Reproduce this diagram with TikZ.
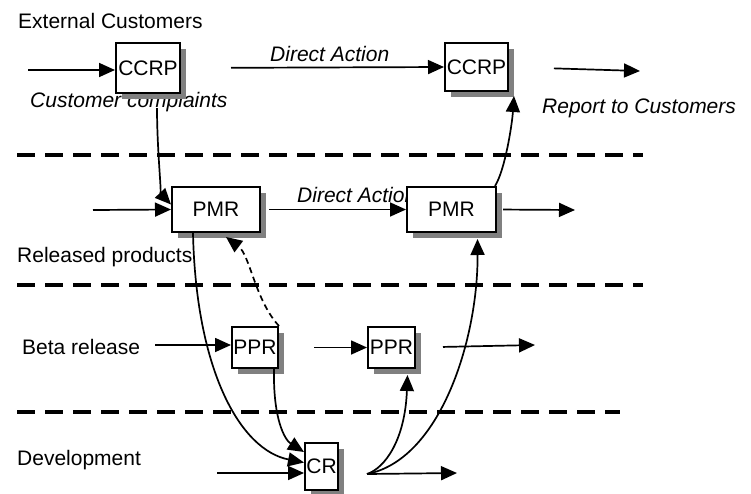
\documentclass[tikz,border=0pt]{standalone}
\usepackage{fontspec}
\setmainfont{Liberation Sans}
\usetikzlibrary{arrows.meta,shadows}

\tikzset{
  box/.style={draw,line width=2pt,fill=white,inner sep=1pt,
    drop shadow={shadow xshift=6pt,shadow yshift=-6pt,fill=black!50,opacity=1}},
  lane/.style={line width=4.5pt,dash pattern=on 18pt off 10pt},
  flow/.style={line width=1.7pt,-{Triangle[length=16pt,width=14pt]}},
  lbl/.style={anchor=west,inner sep=0pt}
}

\begin{document}
\begin{tikzpicture}[x=1pt,y=-1pt,font=\fontsize{21}{25}\selectfont]
       \useasboundingbox (0,0) rectangle (751,493);

       % Swim lane separators
       \draw[lane] (17,155) -- (643,155);
       \draw[lane] (17,285) -- (643,285);
       \draw[lane] (17,412) -- (620,412);

       % Lane and flow labels
       \node[lbl] (ext) at (18,21) {External Customers};
       \node[lbl] (complaints) at (30,102) {\itshape Customer complaints};
       \node[lbl] (action1) at (270,54) {\itshape Direct Action};
       \node[lbl] (report) at (542,108) {\itshape Report to Customers};
       \node[lbl] (action2) at (297,195) {\itshape Direct Action};
       \node[lbl] (released) at (17,257) {Released products};
       \node[lbl] (beta) at (22,347) {Beta release};
       \node[lbl] (dev) at (17,460) {Development};

       % Boxes
       \node[box,minimum width=64pt,minimum height=50pt] (ccrp1) at (148,68) {CCRP};
       \node[box,minimum width=63pt,minimum height=48pt] (ccrp2) at (476.5,67) {CCRP};
       \node[box,minimum width=88pt,minimum height=45pt] (pmr1) at (216,209.5) {PMR};
       \node[box,minimum width=89pt,minimum height=45pt] (pmr2) at (451.5,209.5) {PMR};
       \node[box,minimum width=46pt,minimum height=41pt] (ppr1) at (255,347.5) {PPR};
       \node[box,minimum width=47pt,minimum height=41pt] (ppr2) at (391.5,347.5) {PPR};
       \node[box,minimum width=33pt,minimum height=47pt] (cr) at (321.5,466.5) {CR};

       % Free ends
       \coordinate (in1) at (28,70);
       \coordinate (in2) at (93,210);
       \coordinate (in3) at (155,345);
       \coordinate (in4) at (217,473);
       \coordinate (out1) at (640,71);
       \coordinate (out2) at (575,210);
       \coordinate (out3) at (535,345);
       \coordinate (out4) at (457,473);
       \coordinate (cc) at (157,108);
       \coordinate (crx) at (367,474);

       % Straight flows
       \draw[flow] (in1) -- (in1 -| ccrp1.west);
       \draw[flow,shorten <=50pt] (ccrp1.east) -- (ccrp2.west);
       \draw[flow,shorten <=45pt] (ccrp2.east) -- (out1);
       \draw[flow] (in2) -- (pmr1.west);
       \draw[flow,shorten <=8pt] (pmr1.east) -- (pmr2.west);
       \draw[flow,shorten <=6pt] (pmr2.east) -- (out2);
       \draw[flow] (in3) -- (in3 -| ppr1.west);
       \draw[flow,shorten <=35pt] (ppr1.east) -- (ppr2.west);
       \draw[flow,shorten <=27pt] (ppr2.east) -- (out3);
       \draw[flow] (in4) -- (in4 -| cr.west);
       \draw[flow] (crx) -- (out4);

       % Curved flows between lanes
       \draw[flow] (cc) .. controls (157,150) and (162,195) .. ([yshift=5pt]pmr1.west);
       \draw[flow] ([xshift=-2pt]pmr2.north east) .. controls (505,170) and (512,125) .. ([xshift=5pt,yshift=-4pt]ccrp2.south east);
       \draw[flow,dash pattern=on 6pt off 4pt] (ppr1.north east) .. controls (255,300) and (250,255) .. ([xshift=10pt,yshift=-4pt]pmr1.south);
       \draw[flow] ([xshift=-23pt]pmr1.south) .. controls (196,370) and (240,450) .. ([yshift=4pt]cr.west);
       \draw[flow] ([xshift=-5pt]ppr1.south east) .. controls (273,420) and (285,440) .. ([yshift=-10pt]cr.north west);
       \draw[flow] (crx) .. controls (385,468) and (405,440) .. ([xshift=16pt,yshift=-6pt]ppr2.south);
       \draw[flow] (crx) .. controls (440,460) and (478,340) .. ([xshift=26pt,yshift=-6pt]pmr2.south);
\end{tikzpicture}
\end{document}
